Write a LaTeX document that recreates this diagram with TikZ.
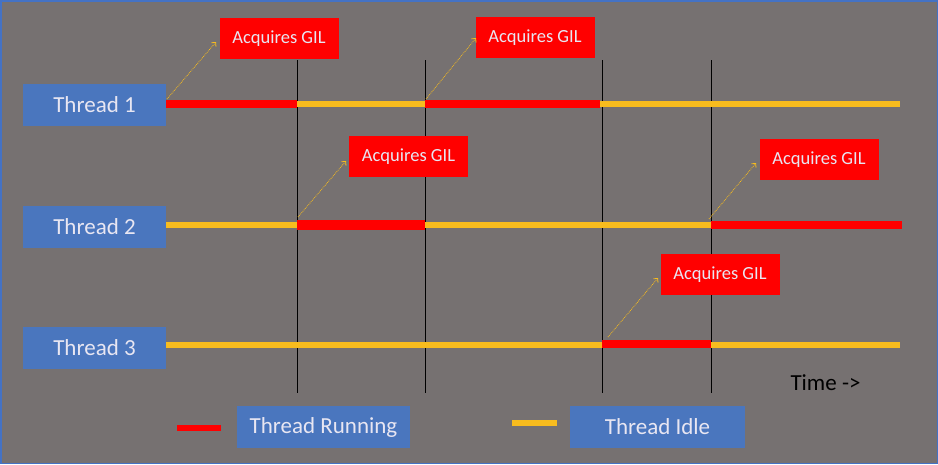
\documentclass[tikz,border=0pt]{standalone}
\usepackage{fontspec}
\setmainfont{Carlito}
\usetikzlibrary{arrows.meta}
\definecolor{bg}{HTML}{767171}
\definecolor{tblue}{HTML}{4A76BE}
\definecolor{ttext}{HTML}{E8E6F2}
\definecolor{run}{HTML}{FF0000}
\definecolor{idle}{HTML}{F8BC1E}
\definecolor{frameblue}{HTML}{4472C4}
\begin{document}
\begin{tikzpicture}[x=1pt,y=-1pt,
  thread/.style={fill=tblue,text=ttext,minimum width=143pt,minimum height=42pt,inner sep=0pt,font=\fontsize{23}{25}\selectfont},
  legendbox/.style={fill=tblue,text=ttext,minimum height=42pt,inner sep=0pt,font=\fontsize{23}{25}\selectfont},
  gil/.style={fill=run,text=ttext,minimum width=119pt,minimum height=41pt,inner sep=0pt,font=\fontsize{18.5}{20}\selectfont},
  runline/.style={draw=run,line width=8pt},
  idleline/.style={draw=idle,line width=6pt},
  tick/.style={draw=black,line width=0.9pt},
  ptr/.style={draw=idle,densely dotted,line width=0.8pt,-{Straight Barb[length=3pt]}}]
\fill[bg] (0,0) rectangle (938,464);
\draw[frameblue,line width=1.5pt] (0.75,0.75) rectangle (937.25,463.25);
\useasboundingbox (0,0) rectangle (938,464);
% time ticks
\coordinate (atop) at (297,60); \coordinate (abot) at (297,393);
\coordinate (btop) at (425,60); \coordinate (bbot) at (425,393);
\coordinate (ctop) at (602,60); \coordinate (cbot) at (602,393);
\coordinate (dtop) at (711,60); \coordinate (dbot) at (711,393);
\draw[tick] (atop) -- (abot);
\draw[tick] (btop) -- (bbot);
\draw[tick] (ctop) -- (cbot);
\draw[tick] (dtop) -- (dbot);
% thread labels
\node[thread] (t1) at (94.5,105) {Thread 1};
\node[thread] (t2) at (94.5,227) {Thread 2};
\node[thread] (t3) at (94.5,348) {Thread 3};
% coordinates on timelines
\coordinate (e1) at (900,104);
\coordinate (e2) at (902,225);
\coordinate (e3) at (900,345);
\coordinate (s1) at (166,104);
\coordinate (s2) at (166,225);
\coordinate (s3) at (166,345);
\coordinate (p1a) at (297,104); \coordinate (p1b) at (425,104); \coordinate (p1c) at (600,104);
\coordinate (p2a) at (297,225); \coordinate (p2b) at (425,225); \coordinate (p2c) at (711,225);
\coordinate (p3a) at (602,343.5); \coordinate (p3b) at (711,343.5);
\coordinate (p3c) at (602,345); \coordinate (p3d) at (711,345);
% thread 1
\draw[idleline] (p1a) -- (p1b);
\draw[idleline] (p1c) -- (e1);
\draw[runline] (s1) -- (p1a);
\draw[runline] (p1b) -- (p1c);
% thread 2
\draw[idleline] (s2) -- (p2a);
\draw[idleline] (p2b) -- (p2c);
\draw[runline,line width=10pt] (p2a) -- (p2b);
\draw[runline] (p2c) -- (e2);
% thread 3
\draw[idleline] (s3) -- (p3c);
\draw[idleline] (p3d) -- (e3);
\draw[runline] (p3a) -- (p3b);
% GIL boxes
\node[gil] (g1) at (279,38.5) {Acquires GIL};
\node[gil] (g2) at (535,37.5) {Acquires GIL};
\node[gil] (g3) at (408.5,156.5) {Acquires GIL};
\node[gil] (g4) at (819,159.5) {Acquires GIL};
\node[gil] (g5) at (720,274.5) {Acquires GIL};
% pointers
\coordinate (q1) at (167,99);   \coordinate (r1) at (216,42);
\coordinate (q2) at (426,99);   \coordinate (r2) at (476,38);
\coordinate (q3) at (298,217);  \coordinate (r3) at (346,161);
\coordinate (q4) at (709,219);  \coordinate (r4) at (756,163);
\coordinate (q5) at (608,337);  \coordinate (r5) at (658,278);
\draw[ptr] (q1) -- (r1);
\draw[ptr] (q2) -- (r2);
\draw[ptr] (q3) -- (r3);
\draw[ptr] (q4) -- (r4);
\draw[ptr] (q5) -- (r5);
% legend
\coordinate (lr1) at (177,427.5); \coordinate (lr2) at (221,427.5);
\draw[runline,line width=6pt] (lr1) -- (lr2);
\node[legendbox,minimum width=173pt] (lrun) at (323.5,427) {Thread Running};
\coordinate (li1) at (512,423); \coordinate (li2) at (557,423);
\draw[idleline,line width=6pt] (li1) -- (li2);
\node[legendbox,minimum width=175pt] (lidle) at (657.5,427) {Thread Idle};
\node[text=black,font=\fontsize{23}{25}\selectfont,inner sep=0pt] (time) at (825.5,383) {Time ->};
\end{tikzpicture}
\end{document}
